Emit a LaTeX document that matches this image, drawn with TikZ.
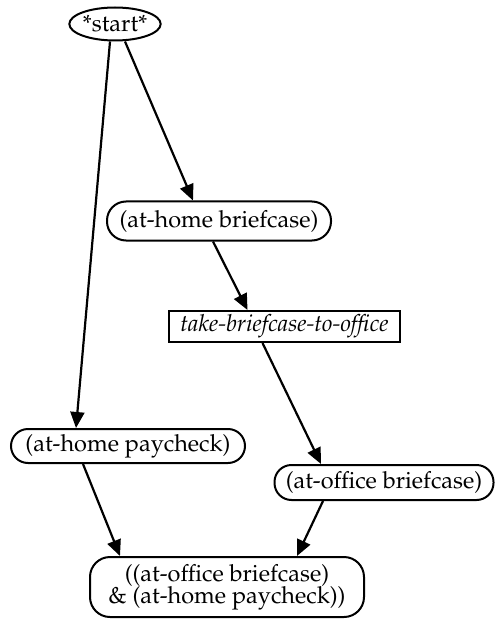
\documentclass[tikz,border=0pt]{standalone}
\usepackage[T1]{fontenc}
\usepackage{mathpazo}
\usetikzlibrary{arrows.meta,shapes.geometric}
\begin{document}
\begin{tikzpicture}[x=1pt,y=-1pt,
  every node/.style={font=\fontsize{23.5}{26}\selectfont, inner sep=0pt, line width=2pt, draw, align=center},
  rbox/.style={rectangle, rounded corners=17pt},
  sbox/.style={rectangle},
  ebox/.style={ellipse},
  conn/.style={line width=2.2pt, -{Triangle[length=16pt,width=14pt]}}]
\useasboundingbox (0,0) rectangle (496,620);
\node[ebox, minimum width=86, minimum height=33] (start) at (115,24) {*start*};
\node[rbox, rounded corners=19pt, minimum width=224, minimum height=39] (ahb) at (219,221) {(at-home briefcase)};
\node[sbox, minimum width=231, minimum height=31] (tbo) at (284.5,326.5) {\itshape take-briefcase-to-office};
\node[rbox, minimum width=234, minimum height=34] (ahp) at (128,446) {(at-home paycheck)};
\node[rbox, minimum width=219, minimum height=35] (aob) at (384,482.5) {(at-office briefcase)};
\node[rbox, rounded corners=20pt, minimum width=274, minimum height=60] (goal) at (227,587) {((at-office briefcase)\\[-4pt] \& (at-home paycheck))};
\draw[conn] ([xshift=-5pt]start.south) -- ([xshift=-52pt]ahp.north);
\draw[conn] ([xshift=10pt]start.south) -- ([xshift=-26pt]ahb.north);
\draw[conn] ([xshift=-6pt]ahb.south) -- ([xshift=-37pt]tbo.north);
\draw[conn] ([xshift=-22pt]tbo.south) -- ([xshift=-63pt]aob.north);
\draw[conn] ([xshift=-45pt]ahp.south) -- ([xshift=-107pt]goal.north);
\draw[conn] ([xshift=-61pt]aob.south) -- ([xshift=70pt]goal.north);
\end{tikzpicture}
\end{document}
